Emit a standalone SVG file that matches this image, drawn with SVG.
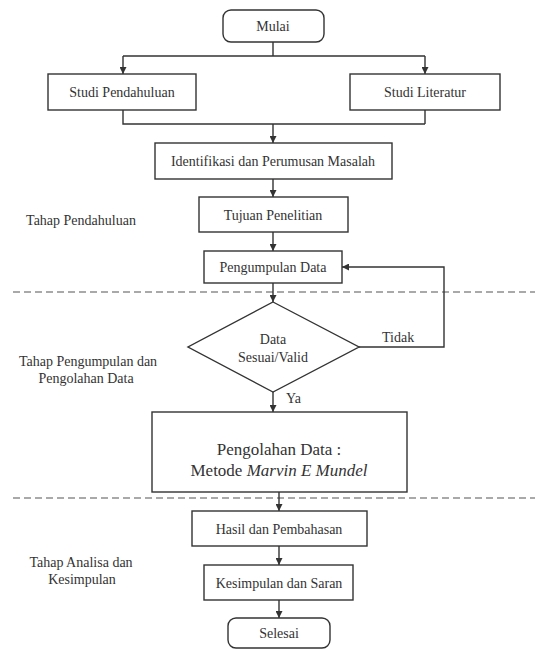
<svg xmlns="http://www.w3.org/2000/svg" width="535" height="649" viewBox="0 0 535 649">
<defs>
<marker id="ah" viewBox="0 0 10 10" refX="10" refY="5" markerWidth="7" markerHeight="7" markerUnits="userSpaceOnUse" orient="auto">
<path d="M0,0 L10,5 L0,10 z" fill="#333"/>
</marker>
</defs>
<rect width="535" height="649" fill="#fff"/>
<g id="separators" fill="none" stroke="#555" stroke-width="1.2" stroke-dasharray="7 4">
<line x1="13" y1="292" x2="535" y2="292"/>
<line x1="13" y1="498" x2="535" y2="498"/>
</g>
<g id="stage-labels" fill="#333" font-size="14" text-anchor="middle">
<text font-family="Liberation Serif" x="81" y="225">Tahap Pendahuluan</text>
<text font-family="Liberation Serif" x="88" y="366">Tahap Pengumpulan dan</text>
<text font-family="Liberation Serif" x="86" y="383">Pengolahan Data</text>
<text font-family="Liberation Serif" x="81" y="567">Tahap Analisa dan</text>
<text font-family="Liberation Serif" x="82" y="584">Kesimpulan</text>
</g>
<g id="connectors" fill="none" stroke="#333" stroke-width="1.4">
<path d="M273,42 V56 M123,56 H425"/>
<path d="M123,56 V74" marker-end="url(#ah)"/>
<path d="M425,56 V74" marker-end="url(#ah)"/>
<path d="M123,110 V124 H425 M425,110 V124"/>
<path d="M273,124 V143" marker-end="url(#ah)"/>
<path d="M273,179 V197" marker-end="url(#ah)"/>
<path d="M273,232 V251" marker-end="url(#ah)"/>
<path d="M273,283 V302" marker-end="url(#ah)"/>
<path d="M359,347 H444 V267 H342" marker-end="url(#ah)"/>
<path d="M273,392 V412" marker-end="url(#ah)"/>
<path d="M279,492 V511" marker-end="url(#ah)"/>
<path d="M279,546 V565" marker-end="url(#ah)"/>
<path d="M279,600 V618" marker-end="url(#ah)"/>
<text font-family="Liberation Serif" font-size="14" fill="#333" stroke="none" x="382" y="342">Tidak</text>
<text font-family="Liberation Serif" font-size="14" fill="#333" stroke="none" x="286" y="403">Ya</text>
</g>
<g id="nodes" fill="#fff" stroke="#333" stroke-width="1.4">
<g id="mulai">
<rect x="223" y="10" width="101" height="32" rx="8"/>
<text font-family="Liberation Serif" font-size="14" fill="#333" stroke="none" text-anchor="middle" x="273" y="31">Mulai</text>
</g>
<g id="studi-pendahuluan">
<rect x="48" y="74" width="148" height="36"/>
<text font-family="Liberation Serif" font-size="14" fill="#333" stroke="none" text-anchor="middle" x="122" y="97">Studi Pendahuluan</text>
</g>
<g id="studi-literatur">
<rect x="350" y="74" width="150" height="36"/>
<text font-family="Liberation Serif" font-size="14" fill="#333" stroke="none" text-anchor="middle" x="425" y="97">Studi Literatur</text>
</g>
<g id="identifikasi">
<rect x="155" y="143" width="237" height="36"/>
<text font-family="Liberation Serif" font-size="14" fill="#333" stroke="none" text-anchor="middle" x="273" y="166">Identifikasi dan Perumusan Masalah</text>
</g>
<g id="tujuan">
<rect x="199" y="197" width="149" height="35"/>
<text font-family="Liberation Serif" font-size="14" fill="#333" stroke="none" text-anchor="middle" x="273" y="220">Tujuan Penelitian</text>
</g>
<g id="pengumpulan">
<rect x="204" y="251" width="138" height="32"/>
<text font-family="Liberation Serif" font-size="14" fill="#333" stroke="none" text-anchor="middle" x="273" y="272">Pengumpulan Data</text>
</g>
<g id="validasi">
<polygon points="273,302 359,347 273,392 188,347"/>
<text font-family="Liberation Serif" font-size="14" fill="#333" stroke="none" text-anchor="middle" x="273" y="344">Data</text>
<text font-family="Liberation Serif" font-size="14" fill="#333" stroke="none" text-anchor="middle" x="273" y="362">Sesuai/Valid</text>
</g>
<g id="pengolahan">
<rect x="152" y="412" width="255" height="80"/>
<text font-family="Liberation Serif" font-size="17" fill="#333" stroke="none" text-anchor="middle" x="279" y="455">Pengolahan Data :</text>
<text font-family="Liberation Serif" font-size="17" fill="#333" stroke="none" text-anchor="middle" x="279" y="476">Metode <tspan font-style="italic">Marvin E Mundel</tspan></text>
</g>
<g id="hasil">
<rect x="192" y="511" width="175" height="35"/>
<text font-family="Liberation Serif" font-size="14" fill="#333" stroke="none" text-anchor="middle" x="279" y="534">Hasil dan Pembahasan</text>
</g>
<g id="kesimpulan">
<rect x="204" y="565" width="149" height="35"/>
<text font-family="Liberation Serif" font-size="14" fill="#333" stroke="none" text-anchor="middle" x="279" y="588">Kesimpulan dan Saran</text>
</g>
<g id="selesai">
<rect x="228" y="618" width="102" height="30" rx="8"/>
<text font-family="Liberation Serif" font-size="14" fill="#333" stroke="none" text-anchor="middle" x="279" y="638">Selesai</text>
</g>
</g>
</svg>
